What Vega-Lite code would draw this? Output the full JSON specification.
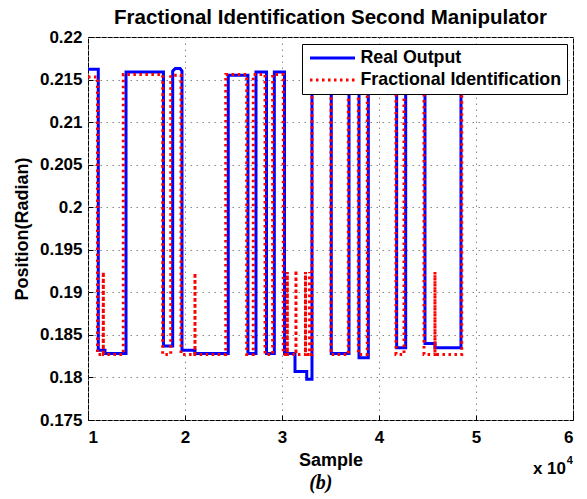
{
  "$schema": "https://vega.github.io/schema/vega-lite/v6.json",
  "width": 485,
  "height": 383,
  "autosize": {"type": "none"},
  "padding": {"left": 88, "top": 37, "right": 14, "bottom": 79},
  "background": "white",
  "title": {"text": "Fractional Identification Second Manipulator", "font": "Liberation Sans", "fontSize": 20.5, "fontWeight": "bold", "color": "black", "anchor": "middle", "offset": 0},
  "config": {
    "view": {"stroke": "black", "strokeWidth": 1},
    "axis": {
      "labelFont": "Liberation Sans", "labelFontWeight": "bold", "labelFontSize": 17, "labelColor": "black",
      "titleFont": "Liberation Sans", "titleFontWeight": "bold", "titleFontSize": 18, "titleColor": "black",
      "domain": false, "grid": true, "gridDash": [1.5, 4.5], "gridColor": "#888888", "gridWidth": 1,
      "tickColor": "black", "tickSize": -5, "tickWidth": 1
    }
  },
  "datasets": {
    "real": [
      {"s": "Real Output", "x": 1.000, "y": 0.2162},
      {"s": "Real Output", "x": 1.106, "y": 0.2162},
      {"s": "Real Output", "x": 1.106, "y": 0.1832},
      {"s": "Real Output", "x": 1.175, "y": 0.1832},
      {"s": "Real Output", "x": 1.175, "y": 0.1828},
      {"s": "Real Output", "x": 1.392, "y": 0.1828},
      {"s": "Real Output", "x": 1.392, "y": 0.2159},
      {"s": "Real Output", "x": 1.778, "y": 0.2159},
      {"s": "Real Output", "x": 1.778, "y": 0.1837},
      {"s": "Real Output", "x": 1.873, "y": 0.1837},
      {"s": "Real Output", "x": 1.873, "y": 0.2160},
      {"s": "Real Output", "x": 1.900, "y": 0.2163},
      {"s": "Real Output", "x": 1.950, "y": 0.2163},
      {"s": "Real Output", "x": 1.969, "y": 0.2160},
      {"s": "Real Output", "x": 1.969, "y": 0.1832},
      {"s": "Real Output", "x": 2.103, "y": 0.1832},
      {"s": "Real Output", "x": 2.103, "y": 0.1828},
      {"s": "Real Output", "x": 2.446, "y": 0.1828},
      {"s": "Real Output", "x": 2.446, "y": 0.2155},
      {"s": "Real Output", "x": 2.649, "y": 0.2155},
      {"s": "Real Output", "x": 2.649, "y": 0.1828},
      {"s": "Real Output", "x": 2.732, "y": 0.1828},
      {"s": "Real Output", "x": 2.732, "y": 0.2159},
      {"s": "Real Output", "x": 2.840, "y": 0.2159},
      {"s": "Real Output", "x": 2.840, "y": 0.1828},
      {"s": "Real Output", "x": 2.921, "y": 0.1828},
      {"s": "Real Output", "x": 2.921, "y": 0.2159},
      {"s": "Real Output", "x": 3.026, "y": 0.2159},
      {"s": "Real Output", "x": 3.026, "y": 0.1828},
      {"s": "Real Output", "x": 3.134, "y": 0.1828},
      {"s": "Real Output", "x": 3.134, "y": 0.1807},
      {"s": "Real Output", "x": 3.255, "y": 0.1807},
      {"s": "Real Output", "x": 3.255, "y": 0.1798},
      {"s": "Real Output", "x": 3.309, "y": 0.1798},
      {"s": "Real Output", "x": 3.309, "y": 0.2159},
      {"s": "Real Output", "x": 3.508, "y": 0.2159},
      {"s": "Real Output", "x": 3.508, "y": 0.1828},
      {"s": "Real Output", "x": 3.691, "y": 0.1828},
      {"s": "Real Output", "x": 3.691, "y": 0.2159},
      {"s": "Real Output", "x": 3.794, "y": 0.2159},
      {"s": "Real Output", "x": 3.794, "y": 0.1823},
      {"s": "Real Output", "x": 3.890, "y": 0.1823},
      {"s": "Real Output", "x": 3.890, "y": 0.2159},
      {"s": "Real Output", "x": 4.182, "y": 0.2159},
      {"s": "Real Output", "x": 4.182, "y": 0.1835},
      {"s": "Real Output", "x": 4.275, "y": 0.1835},
      {"s": "Real Output", "x": 4.275, "y": 0.2159},
      {"s": "Real Output", "x": 4.474, "y": 0.2159},
      {"s": "Real Output", "x": 4.474, "y": 0.1840},
      {"s": "Real Output", "x": 4.577, "y": 0.1840},
      {"s": "Real Output", "x": 4.577, "y": 0.1835},
      {"s": "Real Output", "x": 4.845, "y": 0.1835},
      {"s": "Real Output", "x": 4.845, "y": 0.2159},
      {"s": "Real Output", "x": 4.870, "y": 0.2159}
    ],
    "frac": [
      {"s": "Fractional Identification", "x": 1.000, "y": 0.2153},
      {"s": "Fractional Identification", "x": 1.098, "y": 0.2153},
      {"s": "Fractional Identification", "x": 1.098, "y": 0.1827},
      {"s": "Fractional Identification", "x": 1.158, "y": 0.1827},
      {"s": "Fractional Identification", "x": 1.158, "y": 0.1924},
      {"s": "Fractional Identification", "x": 1.158, "y": 0.1827},
      {"s": "Fractional Identification", "x": 1.364, "y": 0.1827},
      {"s": "Fractional Identification", "x": 1.364, "y": 0.2156},
      {"s": "Fractional Identification", "x": 1.770, "y": 0.2156},
      {"s": "Fractional Identification", "x": 1.770, "y": 0.1827},
      {"s": "Fractional Identification", "x": 1.853, "y": 0.1827},
      {"s": "Fractional Identification", "x": 1.853, "y": 0.2155},
      {"s": "Fractional Identification", "x": 1.959, "y": 0.2155},
      {"s": "Fractional Identification", "x": 1.959, "y": 0.1827},
      {"s": "Fractional Identification", "x": 2.103, "y": 0.1827},
      {"s": "Fractional Identification", "x": 2.103, "y": 0.1923},
      {"s": "Fractional Identification", "x": 2.103, "y": 0.1827},
      {"s": "Fractional Identification", "x": 2.420, "y": 0.1827},
      {"s": "Fractional Identification", "x": 2.420, "y": 0.2156},
      {"s": "Fractional Identification", "x": 2.636, "y": 0.2156},
      {"s": "Fractional Identification", "x": 2.636, "y": 0.1827},
      {"s": "Fractional Identification", "x": 2.704, "y": 0.1827},
      {"s": "Fractional Identification", "x": 2.704, "y": 0.2156},
      {"s": "Fractional Identification", "x": 2.825, "y": 0.2156},
      {"s": "Fractional Identification", "x": 2.825, "y": 0.1827},
      {"s": "Fractional Identification", "x": 2.904, "y": 0.1827},
      {"s": "Fractional Identification", "x": 2.904, "y": 0.2156},
      {"s": "Fractional Identification", "x": 3.013, "y": 0.2156},
      {"s": "Fractional Identification", "x": 3.013, "y": 0.1827},
      {"s": "Fractional Identification", "x": 3.055, "y": 0.1827},
      {"s": "Fractional Identification", "x": 3.055, "y": 0.1924},
      {"s": "Fractional Identification", "x": 3.055, "y": 0.1827},
      {"s": "Fractional Identification", "x": 3.144, "y": 0.1827},
      {"s": "Fractional Identification", "x": 3.144, "y": 0.1926},
      {"s": "Fractional Identification", "x": 3.144, "y": 0.1827},
      {"s": "Fractional Identification", "x": 3.242, "y": 0.1827},
      {"s": "Fractional Identification", "x": 3.242, "y": 0.1924},
      {"s": "Fractional Identification", "x": 3.242, "y": 0.1827},
      {"s": "Fractional Identification", "x": 3.284, "y": 0.1827},
      {"s": "Fractional Identification", "x": 3.284, "y": 0.1924},
      {"s": "Fractional Identification", "x": 3.284, "y": 0.1827},
      {"s": "Fractional Identification", "x": 3.309, "y": 0.1827},
      {"s": "Fractional Identification", "x": 3.309, "y": 0.2156},
      {"s": "Fractional Identification", "x": 3.505, "y": 0.2156},
      {"s": "Fractional Identification", "x": 3.505, "y": 0.1827},
      {"s": "Fractional Identification", "x": 3.684, "y": 0.1827},
      {"s": "Fractional Identification", "x": 3.684, "y": 0.2156},
      {"s": "Fractional Identification", "x": 3.787, "y": 0.2156},
      {"s": "Fractional Identification", "x": 3.787, "y": 0.1827},
      {"s": "Fractional Identification", "x": 3.879, "y": 0.1827},
      {"s": "Fractional Identification", "x": 3.879, "y": 0.2156},
      {"s": "Fractional Identification", "x": 4.175, "y": 0.2156},
      {"s": "Fractional Identification", "x": 4.175, "y": 0.1827},
      {"s": "Fractional Identification", "x": 4.258, "y": 0.1827},
      {"s": "Fractional Identification", "x": 4.258, "y": 0.2156},
      {"s": "Fractional Identification", "x": 4.464, "y": 0.2156},
      {"s": "Fractional Identification", "x": 4.464, "y": 0.1827},
      {"s": "Fractional Identification", "x": 4.577, "y": 0.1827},
      {"s": "Fractional Identification", "x": 4.577, "y": 0.1924},
      {"s": "Fractional Identification", "x": 4.577, "y": 0.1827},
      {"s": "Fractional Identification", "x": 4.853, "y": 0.1827},
      {"s": "Fractional Identification", "x": 4.853, "y": 0.2156},
      {"s": "Fractional Identification", "x": 4.870, "y": 0.2156}
    ],
    "notes": [
      {"t": "x 10"}
    ]
  },
  "layer": [
    {
      "data": {"name": "real"},
      "mark": {"type": "line", "strokeWidth": 3, "strokeJoin": "miter", "clip": true},
      "encoding": {
        "x": {"field": "x", "type": "quantitative", "scale": {"domain": [1, 6], "nice": false, "zero": false},
              "axis": {"title": "Sample", "values": [1, 2, 3, 4, 5, 6], "format": "d", "labelPadding": 14, "titlePadding": 6}},
        "y": {"field": "y", "type": "quantitative", "scale": {"domain": [0.175, 0.22], "nice": false, "zero": false},
              "axis": {"title": "Position(Radian)", "values": [0.175, 0.18, 0.185, 0.19, 0.195, 0.2, 0.205, 0.21, 0.215, 0.22], "format": ".3~f", "labelPadding": 11, "titlePadding": 8}},
        "color": {"field": "s", "type": "nominal", "scale": {"domain": ["Real Output", "Fractional Identification"], "range": ["#0000ff", "#ff0000"]},
                  "legend": {"title": null, "orient": "none", "legendX": 214, "legendY": 7, "direction": "vertical", "fillColor": "white", "strokeColor": "black", "padding": 5, "symbolType": "M-3,0H3", "symbolSize": 225, "symbolStrokeWidth": 3, "symbolOffset": 16.5, "labelFont": "Liberation Sans", "labelFontWeight": "bold", "labelFontSize": 17.8, "labelColor": "black", "labelOffset": 19, "labelLimit": 400, "rowPadding": 4}},
        "strokeDash": {"field": "s", "type": "nominal", "scale": {"domain": ["Real Output", "Fractional Identification"], "range": [[1, 0], [2.5, 3.5]]},
                  "legend": {"title": null, "orient": "none", "legendX": 214, "legendY": 7, "direction": "vertical", "fillColor": "white", "strokeColor": "black", "padding": 5, "symbolType": "M-3,0H3", "symbolSize": 225, "symbolStrokeWidth": 3, "symbolOffset": 16.5, "labelFont": "Liberation Sans", "labelFontWeight": "bold", "labelFontSize": 17.8, "labelColor": "black", "labelOffset": 19, "labelLimit": 400, "rowPadding": 4}},
        "order": {"value": null}
      }
    },
    {
      "data": {"name": "frac"},
      "mark": {"type": "line", "strokeWidth": 3, "strokeCap": "butt", "clip": true},
      "encoding": {
        "x": {"field": "x", "type": "quantitative"},
        "y": {"field": "y", "type": "quantitative"},
        "color": {"field": "s", "type": "nominal"},
        "strokeDash": {"field": "s", "type": "nominal"},
        "order": {"value": null}
      }
    },
    {
      "data": {"name": "notes"},
      "mark": {"type": "text", "font": "Liberation Sans", "fontWeight": "bold", "fontSize": 17, "align": "right", "baseline": "middle", "color": "black"},
      "encoding": {"x": {"datum": 5.928}, "y": {"datum": 0.1693}, "text": {"field": "t"}}
    },
    {
      "data": {"name": "notes"},
      "mark": {"type": "text", "font": "Liberation Sans", "fontWeight": "bold", "fontSize": 11, "align": "left", "baseline": "middle", "color": "black"},
      "encoding": {"x": {"datum": 5.936}, "y": {"datum": 0.1702}, "text": {"value": "4"}}
    },
    {
      "data": {"name": "notes"},
      "mark": {"type": "text", "font": "Liberation Serif", "fontWeight": "bold", "fontStyle": "italic", "fontSize": 20, "align": "center", "baseline": "middle", "color": "black"},
      "encoding": {"x": {"datum": 3.4}, "y": {"datum": 0.1676}, "text": {"value": "(b)"}}
    }
  ]
}
